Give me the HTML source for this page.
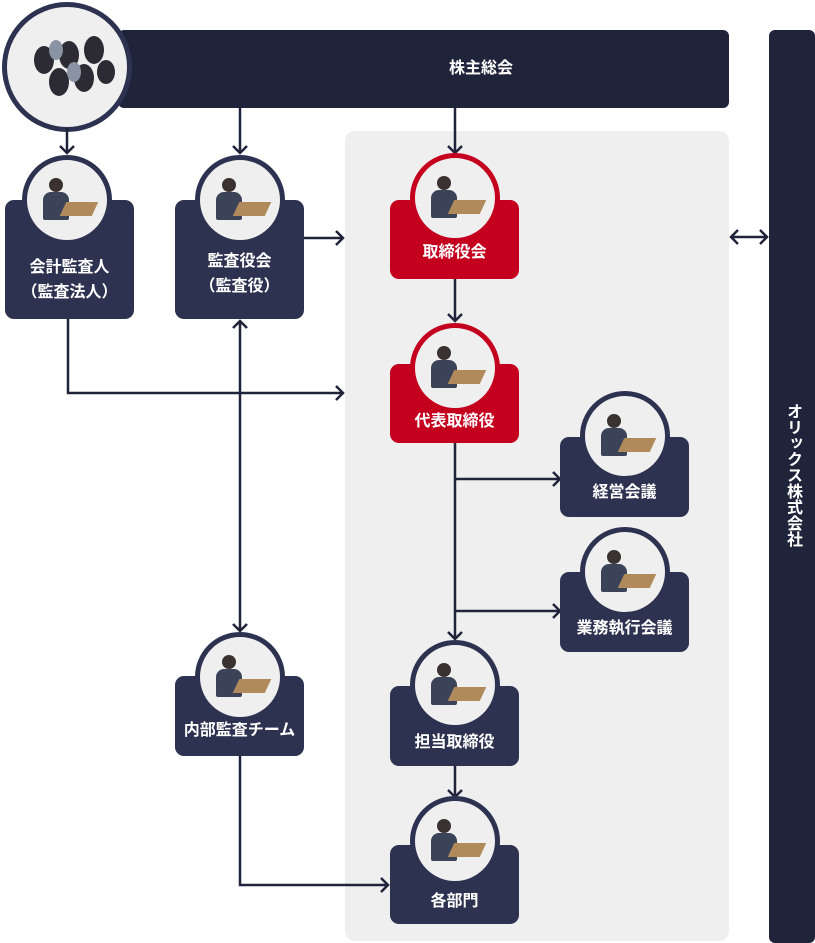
<!DOCTYPE html>
<html><head><meta charset="utf-8"><style>
body{margin:0;width:815px;height:943px;background:#fff;position:relative;overflow:hidden;font-family:"Liberation Sans","Noto Sans CJK JP",sans-serif}
.a{position:absolute}
.card{position:absolute;width:129px;border-radius:9px;background:#2d3250;color:#fff;font-weight:bold;font-size:16px;text-align:center;line-height:25px}
.red{background:#c4001e}
.circ{position:absolute;width:80px;height:80px;border-radius:50%;background:#efefef;border:5px solid #2d3250;overflow:hidden}
.circ.r{border-color:#c4001e}
.circ i{position:absolute;left:22px;top:18px;width:14px;height:14px;border-radius:50%;background:#3a3230}
.circ b{position:absolute;left:16px;top:32px;width:26px;height:28px;border-radius:8px 8px 2px 2px;background:#3b4358}
.circ u{position:absolute;left:36px;top:42px;width:32px;height:14px;background:#b08a5a;transform:skewX(-25deg)}
</style></head><body>
<div class="a" style="left:345px;top:131px;width:384px;height:810px;background:#efefef;border-radius:10px"></div>
<div class="a" style="left:118px;top:30px;width:611px;height:78px;background:#20243a;border-radius:6px;color:#fff;font-weight:bold;font-size:16px;line-height:78px;text-align:center;padding-left:115px;box-sizing:border-box">株主総会</div>
<div class="a" style="left:769px;top:30px;width:46px;height:913px;background:#20243a;border-radius:6px"></div>
<div class="a" style="left:782px;top:403px;width:20px;color:#fff;font-weight:bold;font-size:16px;line-height:19px;writing-mode:vertical-rl;">オリックス株式会社</div>
<div class="a" style="left:2px;top:2px;width:120px;height:120px;border-radius:50%;background:#efefef;border:5px solid #2d3250"></div>
<svg class="a" style="left:14px;top:20px" width="110" height="95"><g fill="#2c2a33"><ellipse cx="30" cy="40" rx="10" ry="14"/><ellipse cx="55" cy="35" rx="10" ry="14"/><ellipse cx="80" cy="30" rx="10" ry="14"/><ellipse cx="45" cy="62" rx="10" ry="14"/><ellipse cx="70" cy="58" rx="10" ry="14"/><ellipse cx="92" cy="52" rx="9" ry="12"/></g><g fill="#8a93a3"><ellipse cx="42" cy="30" rx="7" ry="10"/><ellipse cx="60" cy="52" rx="7" ry="10"/></g></svg>

<svg class="a" style="left:0;top:0" width="815" height="943" fill="none" stroke="#20243a" stroke-width="2.5">
<path d="M67 128V153M60 146l7 7 7-7"/>
<path d="M240 108V153M233 146l7 7 7-7"/>
<path d="M455 108V153M448 146l7 7 7-7"/>
<path d="M304 238H343M336 231l7 7-7 7"/>
<path d="M455 279V321M448 314l7 7 7-7"/>
<path d="M68 319V393H343M336 386l7 7-7 7"/>
<path d="M240 321V631M233 328l7-7 7 7M233 624l7 7 7-7"/>
<path d="M455 443V639M448 632l7 7 7-7"/>
<path d="M455 479H560M553 472l7 7-7 7"/>
<path d="M455 611H560M553 604l7 7-7 7"/>
<path d="M455 766V797M448 790l7 7 7-7"/>
<path d="M240 756V885H388M381 878l7 7-7 7"/>
<path d="M731 237H767M738 230l-7 7 7 7M760 230l7 7-7 7"/>
</svg>

<div class="card" style="left:5px;top:200px;height:119px"><div style="padding-top:55px">会計監査人<br>（監査法人）</div></div>
<div class="circ" style="left:22px;top:155px"><i></i><b></b><u></u></div>
<div class="card" style="left:175px;top:200px;height:119px"><div style="padding-top:49px">監査役会<br>（監査役）</div></div>
<div class="circ" style="left:195px;top:155px"><i></i><b></b><u></u></div>
<div class="card red" style="left:390px;top:200px;height:79px"><div style="padding-top:40px">取締役会</div></div>
<div class="circ r" style="left:410px;top:153px"><i></i><b></b><u></u></div>
<div class="card red" style="left:390px;top:364px;height:79px"><div style="padding-top:45px">代表取締役</div></div>
<div class="circ r" style="left:410px;top:323px"><i></i><b></b><u></u></div>
<div class="card" style="left:560px;top:437px;height:80px"><div style="padding-top:43px">経営会議</div></div>
<div class="circ" style="left:580px;top:391px"><i></i><b></b><u></u></div>
<div class="card" style="left:560px;top:572px;height:80px"><div style="padding-top:44px">業務執行会議</div></div>
<div class="circ" style="left:580px;top:527px"><i></i><b></b><u></u></div>
<div class="card" style="left:175px;top:676px;height:80px"><div style="padding-top:42px">内部監査チーム</div></div>
<div class="circ" style="left:195px;top:632px"><i></i><b></b><u></u></div>
<div class="card" style="left:390px;top:686px;height:80px"><div style="padding-top:44px">担当取締役</div></div>
<div class="circ" style="left:410px;top:640px"><i></i><b></b><u></u></div>
<div class="card" style="left:390px;top:845px;height:79px"><div style="padding-top:44px">各部門</div></div>
<div class="circ" style="left:410px;top:796px"><i></i><b></b><u></u></div>
</body></html>
